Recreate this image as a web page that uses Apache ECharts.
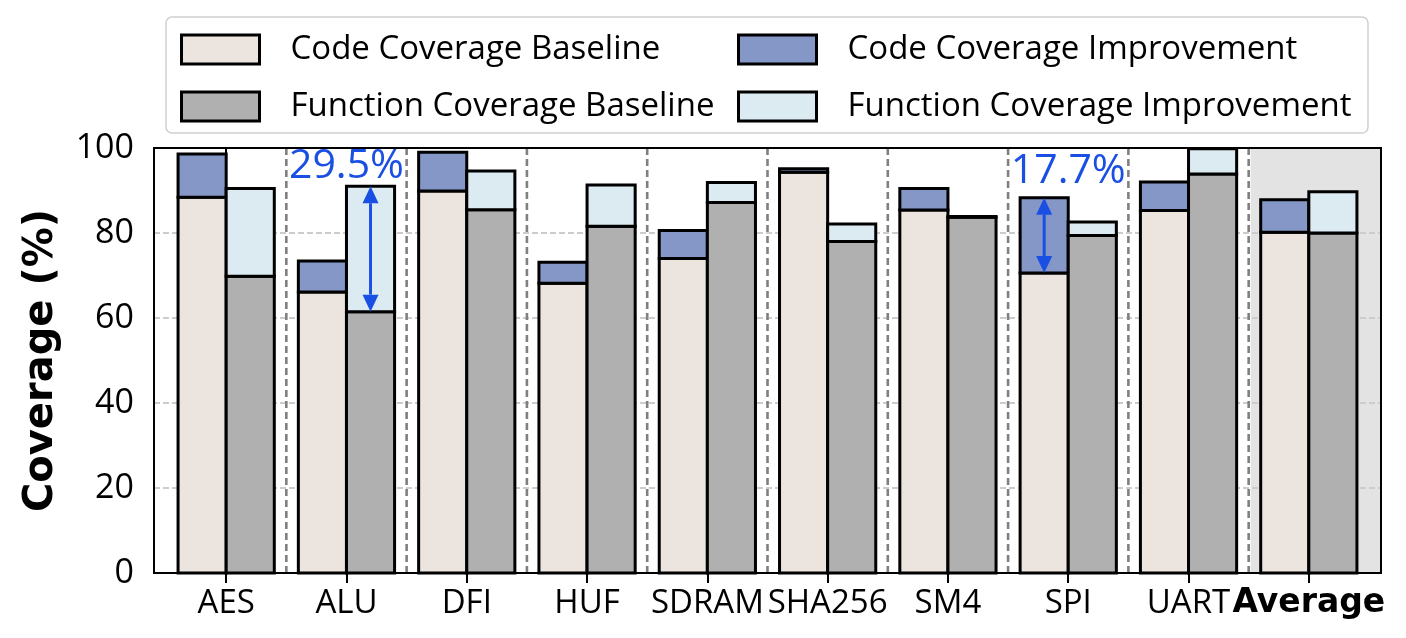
<!DOCTYPE html>
<html style="height: 100%">

<head>
  <meta charset="utf-8">
</head>

<body style="height: 100%; margin: 0">
  <div id="container" style="width: 1406px; height: 638px"></div>
  <script src="https://cdn.jsdelivr.net/npm/echarts@6/dist/echarts.min.js"></script>
  <script type="text/javascript">
    // 数据
    var categories = ['AES', 'ALU', 'DFI', 'HUF', 'SDRAM', 'SHA256', 'SM4', 'SPI', 'UART', 'Average'];
    var codeBase = [88.4, 66.1, 89.9, 68.2, 74.0, 94.3, 85.4, 70.6, 85.3, 80.2];
    var codeImp = [10.2, 7.3, 9.1, 4.9, 6.6, 0.8, 5.1, 17.7, 6.7, 7.6];
    var funcBase = [69.8, 61.5, 85.5, 81.6, 87.2, 78.0, 83.7, 79.4, 93.9, 80.0];
    var funcImp = [20.7, 29.5, 9.1, 9.7, 4.7, 4.1, 0.2, 3.2, 5.9, 9.7];
    var yTicks = [0, 20, 40, 60, 80, 100];

    // 标注: 类别, 哪组柱子, 文字中心的y值
    var annotCats = [1, 7];
    var annotKinds = ['func', 'code'];
    var annotTextY = [95.6, 94.4];

    var colors = ['#ECE4DF', '#8497C7', '#B0B0B0', '#DBEBF1'];
    var names = ['Code Coverage Baseline', 'Code Coverage Improvement', 'Function Coverage Baseline', 'Function Coverage Improvement'];
    var textFont = "'Open Sans'";
    var blue = '#1A4FE3';

    var dom = document.getElementById('container');
    var myChart = echarts.init(dom);

    // 每根柱子: [类别, 下边, 上边]
    function segs(base, imp, useImp) {
      var out = [];
      for (var i = 0; i < categories.length; i++) {
        if (useImp) out.push([i, base[i], base[i] + imp[i]]);
        else out.push([i, 0, base[i]]);
      }
      return out;
    }

    function barRender(offset, color) {
      return function (params, api) {
        var p0 = api.coord([api.value(0) + offset, api.value(1)]);
        var p1 = api.coord([api.value(0) + offset + 0.4, api.value(2)]);
        return {
          type: 'rect',
          shape: { x: p0[0], y: p1[1], width: p1[0] - p0[0], height: p0[1] - p1[1] },
          style: { fill: color, stroke: '#000', lineWidth: 3 }
        };
      };
    }

    var barStyle = function (c) {
      return { color: c, borderColor: '#000', borderWidth: 3 };
    };

    var sepData = [];
    for (var k = 0; k < categories.length - 1; k++) sepData.push([k + 0.5]);

    var legendBase = {
      orient: 'vertical',
      top: 33,
      padding: 0,
      icon: 'rect',
      itemWidth: 78,
      itemHeight: 29,
      itemGap: 24,
      selectedMode: false,
      itemStyle: { borderColor: '#000', borderWidth: 3 },
      textStyle: { fontFamily: textFont, fontSize: 33, color: '#000', lineHeight: 29, padding: [0, 0, 0, 26] }
    };

    var option = {
      animation: false,
      graphic: [{
        type: 'rect',
        shape: { x: 166, y: 17, width: 1202, height: 116, r: 6 },
        style: { fill: '#fff', stroke: '#d0d0d0', lineWidth: 1.5 },
        z: -10
      }],
      legend: [
        Object.assign({}, legendBase, { data: [names[0], names[2]], left: 180 }),
        Object.assign({}, legendBase, { data: [names[1], names[3]], left: 737 })
      ],
      grid: {
        left: 154,
        right: 25,
        top: 148,
        bottom: 65
      },
      xAxis: {
        type: 'value',
        min: -0.6,
        max: 9.6,
        splitLine: { show: false },
        axisLine: { show: true, lineStyle: { color: '#000', width: 2 } },
        axisTick: {
          show: true,
          length: 10,
          lineStyle: { color: '#000', width: 2 },
          customValues: categories.map(function (c, i) { return i; })
        },
        axisLabel: {
          margin: 14,
          color: '#000',
          fontFamily: textFont,
          fontSize: 33,
          customValues: categories.map(function (c, i) { return i; }),
          formatter: function (v) {
            var name = categories[Math.round(v)];
            if (name === 'Average') return '{b|' + name + '}';
            return name;
          },
          rich: {
            b: { fontFamily: 'DejaVu Sans', fontWeight: 'bold', fontSize: 33, color: '#000' }
          }
        }
      },
      yAxis: {
        type: 'value',
        min: 0,
        max: 100,
        interval: 20,
        name: 'Coverage (%)',
        nameLocation: 'middle',
        nameGap: 92,
        nameTextStyle: { fontFamily: 'DejaVu Sans', fontWeight: 'bold', fontSize: 40, color: '#000' },
        axisLine: { show: true, lineStyle: { color: '#000', width: 2 } },
        axisTick: { show: true, length: 10, lineStyle: { color: '#000', width: 2 } },
        axisLabel: { margin: 20, color: '#000', fontFamily: textFont, fontSize: 34 },
        splitLine: { show: true, lineStyle: { color: '#cccccc', width: 1.8, type: [6, 3] } }
      },
      series: [
        {
          // Average 的灰色背景
          type: 'custom',
          z: -1,
          silent: true,
          data: [[categories.length - 1.5]],
          renderItem: function (params, api) {
            var a = api.coord([api.value(0), 100]);
            var b = api.coord([9.6, 0]);
            return {
              type: 'rect',
              shape: { x: a[0] + 2, y: a[1], width: b[0] - a[0] - 2, height: b[1] - a[1] },
              style: { fill: '#E3E3E3' }
            };
          }
        },
        {
          // 分隔虚线
          type: 'custom',
          z: 0,
          silent: true,
          data: sepData,
          renderItem: function (params, api) {
            var a = api.coord([api.value(0), 100]);
            var b = api.coord([api.value(0), 0]);
            return {
              type: 'line',
              shape: { x1: a[0], y1: a[1], x2: b[0], y2: b[1] },
              style: { stroke: '#808080', lineWidth: 2.6, lineDash: [7, 4] }
            };
          }
        },
        {
          name: names[0], type: 'custom', z: 2,
          itemStyle: barStyle(colors[0]),
          data: segs(codeBase, codeImp, false),
          renderItem: barRender(-0.4, colors[0])
        },
        {
          name: names[1], type: 'custom', z: 2,
          itemStyle: barStyle(colors[1]),
          data: segs(codeBase, codeImp, true),
          renderItem: barRender(-0.4, colors[1])
        },
        {
          name: names[2], type: 'custom', z: 2,
          itemStyle: barStyle(colors[2]),
          data: segs(funcBase, funcImp, false),
          renderItem: barRender(0, colors[2])
        },
        {
          name: names[3], type: 'custom', z: 2,
          itemStyle: barStyle(colors[3]),
          data: segs(funcBase, funcImp, true),
          renderItem: barRender(0, colors[3])
        },
        {
          // 图框
          type: 'custom',
          z: 10,
          silent: true,
          data: [[-0.6, 9.6]],
          renderItem: function (params, api) {
            var a = api.coord([api.value(0), 100]);
            var b = api.coord([api.value(1), 0]);
            return {
              type: 'rect',
              shape: { x: a[0], y: a[1], width: b[0] - a[0], height: b[1] - a[1] },
              style: { fill: null, stroke: '#000', lineWidth: 2 }
            };
          }
        },
        {
          // 提升幅度标注
          type: 'custom',
          z: 5,
          silent: true,
          data: annotCats.map(function (c, i) {
            var isFunc = annotKinds[i] === 'func';
            var base = isFunc ? funcBase[c] : codeBase[c];
            var imp = isFunc ? funcImp[c] : codeImp[c];
            return [c, isFunc ? 0.2 : -0.2, base, base + imp, annotTextY[i], imp];
          }),
          renderItem: function (params, api) {
            var x = api.value(0) + api.value(1);
            var lo = api.coord([x, api.value(2)]);
            var hi = api.coord([x, api.value(3)]);
            var t = api.coord([api.value(0), api.value(4)]);
            var hw = 8, hl = 17;
            return {
              type: 'group',
              children: [
                {
                  type: 'line',
                  shape: { x1: lo[0], y1: lo[1] - hl, x2: hi[0], y2: hi[1] + hl },
                  style: { stroke: blue, lineWidth: 3 }
                },
                {
                  type: 'polygon',
                  shape: { points: [[hi[0], hi[1]], [hi[0] - hw, hi[1] + hl], [hi[0] + hw, hi[1] + hl]] },
                  style: { fill: blue }
                },
                {
                  type: 'polygon',
                  shape: { points: [[lo[0], lo[1]], [lo[0] - hw, lo[1] - hl], [lo[0] + hw, lo[1] - hl]] },
                  style: { fill: blue }
                },
                {
                  type: 'text',
                  style: {
                    x: t[0], y: t[1],
                    text: api.value(5).toFixed(1) + '%',
                    textAlign: 'center', textVerticalAlign: 'middle',
                    fill: blue, fontFamily: textFont, fontSize: 41
                  }
                }
              ]
            };
          }
        }
      ]
    };

    myChart.setOption(option);
  </script>
</body>

</html>
